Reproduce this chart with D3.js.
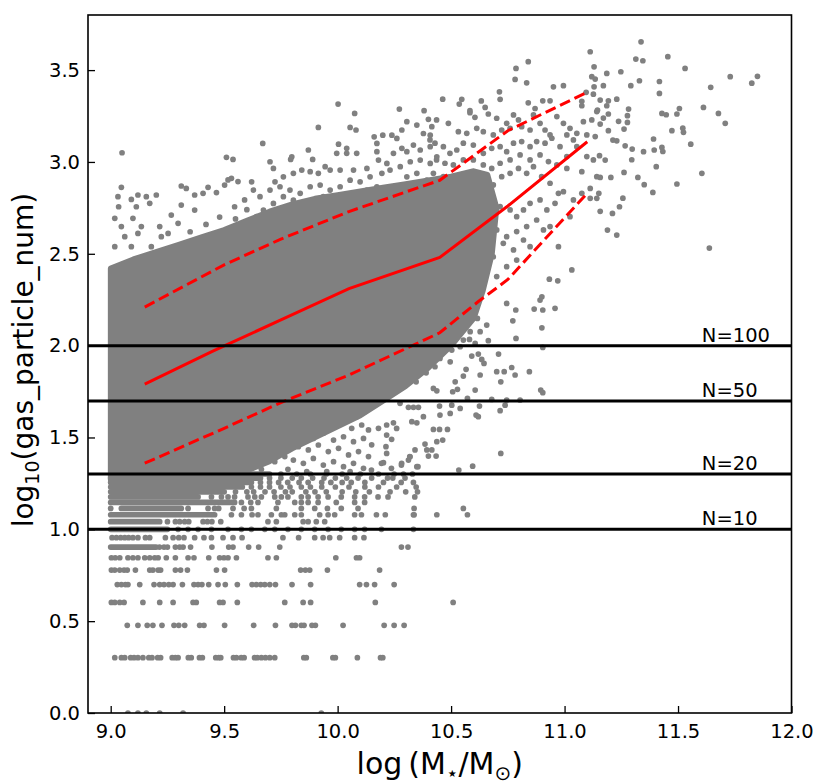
<!DOCTYPE html>
<html>
<head>
<meta charset="utf-8">
<script src="https://cdn.jsdelivr.net/npm/d3@7"></script>
<style>
  body { margin: 0; background: #fff; }
  text { font-family: "DejaVu Sans", sans-serif; }
</style>
</head>
<body>
<svg id="chart" width="831" height="784"></svg>
<script>
// ---- tick values
var xTicks = [9.0, 9.5, 10.0, 10.5, 11.0, 11.5, 12.0];
var yTicks = [0.0, 0.5, 1.0, 1.5, 2.0, 2.5, 3.0, 3.5];

// ---- running median and 16/84 percentiles
var medianLine = [[9.15, 1.79], [9.45, 1.97], [9.75, 2.14], [10.05, 2.31], [10.45, 2.48], [10.75, 2.76], [11.1, 3.11]];
var upperLine = [[9.15, 2.21], [9.5, 2.44], [9.75, 2.58], [10.05, 2.73], [10.45, 2.90], [10.75, 3.17], [11.1, 3.38]];
var lowerLine = [[9.15, 1.36], [9.5, 1.55], [9.75, 1.69], [10.05, 1.84], [10.45, 2.07], [10.62, 2.24], [10.75, 2.36], [11.1, 2.83]];

// ---- particle number thresholds
var thresholds = [100, 50, 20, 10];

// ---- outline of the region where the points merge into solid grey
var coreUpper = [[9.0, 2.42], [9.1, 2.47], [9.2, 2.51], [9.3, 2.55], [9.4, 2.59], [9.5, 2.63], [9.6, 2.68], [9.7, 2.73],
  [9.8, 2.77], [9.9, 2.80], [10.0, 2.82], [10.1, 2.84], [10.2, 2.86], [10.3, 2.88], [10.4, 2.90], [10.5, 2.92],
  [10.6, 2.95], [10.66, 2.93]];
var coreLower = [[10.7, 2.75], [10.68, 2.5], [10.64, 2.3], [10.6, 2.15], [10.5, 2.0], [10.4, 1.88], [10.3, 1.78], [10.2, 1.70],
  [10.1, 1.62], [10.0, 1.56], [9.9, 1.50], [9.8, 1.44], [9.7, 1.37], [9.6, 1.32], [9.5, 1.30], [9.0, 1.27]];

// ---- small particle counts fall on discrete rows y = log10(n)
var rowCounts = [1, 2, 3, 4, 5, 6, 7, 8, 9, 10, 11, 12, 13, 14, 15, 16, 17, 18, 19, 20];
var rowX = [
  [9.076, 9.120, 9.157, 9.216, 9.319, 9.928],
  [9.018, 9.047, 9.062, 9.088, 9.103, 9.120, 9.142, 9.168, 9.182, 9.207, 9.220, 9.271, 9.285, 9.297, 9.342, 9.355, 9.391, 9.404,
   9.463, 9.476, 9.485, 9.541, 9.554, 9.575, 9.588, 9.634, 9.646, 9.664, 9.682, 9.701, 9.723, 9.851, 9.862, 9.979, 9.990, 10.087, 10.189, 10.199],
  [9.073, 9.120, 9.161, 9.186, 9.226, 9.279, 9.300, 9.326, 9.392, 9.411, 9.502, 9.630, 9.726, 9.799, 9.814, 9.840, 9.852,
   9.887, 9.902, 10.024, 10.205, 10.249, 10.293],
  [9.003, 9.018, 9.040, 9.059, 9.142, 9.216, 9.275, 9.363, 9.377, 9.480, 9.495, 9.558, 9.767, 9.848, 9.881, 10.166, 10.509],
  [9.029, 9.047, 9.065, 9.076, 9.128, 9.191, 9.216, 9.235, 9.256, 9.275, 9.316, 9.367, 9.385, 9.402, 9.432, 9.473, 9.505,
   9.558, 9.623, 9.642, 9.661, 9.679, 9.701, 9.726, 9.799, 9.881, 10.097, 10.127, 10.163, 10.249],
  [9.003, 9.018, 9.040, 9.059, 9.073, 9.109, 9.172, 9.186, 9.209, 9.220, 9.285, 9.308, 9.338, 9.466, 9.502, 9.837, 9.858,
   9.877, 9.955, 10.185],
  [9.003, 9.020, 9.040, 9.076, 9.098, 9.120, 9.150, 9.172, 9.194, 9.209, 9.245, 9.285, 9.341, 9.367, 9.432, 9.480, 9.499,
   9.517, 9.554, 9.693, 9.730, 9.992, 10.083, 10.097],
  [9.215, 9.235, 9.250, 9.285, 9.304, 9.319, 9.352, 9.446, 9.520, 9.539, 9.608, 9.652, 9.745, 10.281, 10.310],
  [9.006, 9.025, 9.044, 9.062, 9.079, 9.098, 9.120, 9.153, 9.172, 9.241, 9.275, 9.300, 9.323, 9.370, 9.411, 9.444, 9.495,
   9.539, 9.579, 9.759, 9.828, 9.899, 9.936, 9.965, 10.009, 10.075, 10.116],
  [9.297, 9.341, 9.385, 9.444, 9.517, 9.576, 9.620, 9.679, 9.723, 9.781, 9.840, 9.899, 9.958, 10.016, 10.075, 10.119, 10.193, 10.334],
  [9.250, 9.285, 9.304, 9.326, 9.344, 9.407, 9.426, 9.446, 9.485, 9.693, 9.730, 9.848, 9.870, 9.906, 9.943],
  [9.532, 9.576, 9.623, 9.649, 9.708, 9.752, 9.767, 9.811, 9.840, 9.921, 9.958, 9.987, 10.075, 10.105, 10.171, 10.210,
   10.334, 10.337, 10.437, 10.572],
  [9.0, 9.341, 9.429, 9.458, 9.476, 9.539, 9.588, 9.620, 9.730, 9.840, 9.899, 9.955, 10.016, 10.090, 10.337, 10.554],
  [9.576, 9.617, 9.649, 9.737, 9.811, 9.840, 9.870, 9.914, 9.994, 10.075, 10.119],
  [9.444, 9.488, 9.517, 9.546, 9.605, 9.635, 9.664, 9.723, 9.752, 9.781, 9.840, 9.870, 9.914, 9.958, 10.016, 10.075, 10.119,
   10.178, 10.222, 10.340],
  [9.55, 9.60, 9.63, 9.68, 9.72, 9.77, 9.80, 9.86, 9.90, 9.95, 10.02, 10.08, 10.14, 10.231, 10.30, 10.352],
  [9.62, 9.66, 9.70, 9.75, 9.79, 9.84, 9.88, 9.93, 9.99, 10.05, 10.12, 10.18, 10.26, 10.346],
  [9.66, 9.70, 9.74, 9.78, 9.83, 9.87, 9.93, 9.97, 10.02, 10.06, 10.12, 10.202, 10.28, 10.334],
  [9.70, 9.75, 9.80, 9.84, 9.89, 9.94, 9.99, 10.04, 10.09, 10.15, 10.22, 10.243, 10.297],
  [9.75, 9.82, 9.88, 9.95, 10.02, 10.10, 10.18, 10.249, 10.290, 10.33]
];
// continuous stretches of a row: [n, x from, x to]
var rowRuns = [[8, 9.0, 9.20], [10, 9.0, 9.25], [11, 9.0, 9.216], [12, 9.0, 9.458], [13, 9.047, 9.311], [14, 9.0, 9.546],
  [15, 9.0, 9.385], [16, 9.0, 9.50], [17, 9.0, 9.58], [18, 9.0, 9.62], [19, 9.0, 9.66], [20, 9.0, 9.70]];

// ---- individual galaxies outside the solid region
var sparsePts = [
  // above the cloud, low mass
  [9.050, 3.050], [9.047, 2.862], [9.032, 2.811], [9.035, 2.756], [9.091, 2.796], [9.120, 2.820], [9.157, 2.811], [9.172, 2.775],
  [9.201, 2.820], [9.113, 2.756], [9.098, 2.693], [9.018, 2.693], [9.047, 2.648], [9.135, 2.648], [9.120, 2.611], [9.062, 2.593],
  [9.216, 2.648], [9.223, 2.593], [9.267, 2.711], [9.311, 2.765], [9.311, 2.869], [9.333, 2.856], [9.370, 2.820], [9.407, 2.829],
  [9.429, 2.862], [9.466, 2.833], [9.502, 2.874], [9.517, 2.902], [9.532, 2.911], [9.561, 2.893], [9.510, 3.025], [9.539, 3.014],
  [9.590, 2.793], [9.546, 2.756], [9.370, 2.738], [9.297, 2.666], [9.253, 2.611], [9.179, 2.539], [9.091, 2.539], [9.018, 2.539],
  [9.150, 2.480], [9.35, 2.62], [9.42, 2.66], [9.48, 2.70], [9.55, 2.69], [9.60, 2.74], [10.002, 3.315], [10.075, 3.264],
  // above the cloud, 9.6 - 10.4
  [9.915, 3.188], [10.055, 3.188], [10.081, 3.174], [9.670, 3.101], [10.004, 3.097], [9.871, 3.065], [9.798, 3.028], [9.793, 3.014],
  [9.702, 3.001], [9.717, 2.965], [9.890, 3.014], [9.945, 2.974], [9.996, 3.047], [10.040, 3.074], [10.040, 3.047], [10.084, 3.047],
  [10.161, 3.137], [10.199, 3.146], [10.173, 3.101], [10.173, 3.056], [10.239, 3.146], [10.261, 3.128], [10.283, 3.174], [10.305, 3.219],
  [10.349, 3.201], [10.378, 3.155], [10.408, 3.146], [10.415, 3.192], [10.283, 3.074], [10.305, 3.056], [10.334, 3.092], [10.364, 3.065],
  [10.408, 3.083], [10.246, 3.047], [10.217, 2.992], [10.180, 3.010], [10.129, 2.965], [10.070, 2.956], [10.011, 2.956], [9.967, 2.956],
  [9.915, 2.938], [9.879, 2.947], [9.842, 2.956], [9.805, 2.938], [9.761, 2.919], [9.724, 2.892], [9.702, 2.847], [9.658, 2.811],
  [9.621, 2.892], [9.629, 2.847], [9.746, 2.865], [9.790, 2.847], [9.835, 2.829], [9.879, 2.865], [9.923, 2.874], [9.967, 2.847],
  [10.011, 2.865], [10.055, 2.901], [10.099, 2.892], [10.143, 2.919], [10.195, 2.938], [10.231, 2.956], [10.276, 2.974], [10.320, 3.001],
  [10.364, 3.010], [10.408, 2.992], [10.437, 3.028], [10.305, 2.919], [10.349, 2.938], [10.393, 2.901], [10.173, 2.865], [10.129, 2.847],
  [10.084, 2.829], [10.026, 2.801], [9.982, 2.783], [9.937, 2.811], [9.893, 2.792], [9.849, 2.765], [9.805, 2.792], [9.761, 2.811],
  [9.717, 2.774], [9.673, 2.738], [9.643, 2.702],
  // top of the cloud, 10.3 - 10.9
  [10.840, 3.546], [10.786, 3.509], [10.782, 3.449], [10.833, 3.431], [10.713, 3.382], [10.716, 3.341], [10.633, 3.332], [10.547, 3.341],
  [10.536, 3.315], [10.463, 3.342], [10.381, 3.279], [10.272, 3.288], [10.400, 3.232], [10.583, 3.279], [10.650, 3.297], [10.840, 3.322],
  [10.870, 3.291],
  // between the percentiles, 10.4 - 11.15
  [10.583, 3.268], [10.605, 3.243], [10.664, 3.261], [10.701, 3.238], [10.745, 3.210], [10.775, 3.256], [10.797, 3.229], [10.811, 3.192],
  [10.863, 3.256], [10.892, 3.210], [10.966, 3.247], [10.995, 3.210], [11.024, 3.183], [11.054, 3.156], [11.083, 3.219], [11.120, 3.229],
  [11.142, 3.274], [10.436, 3.229], [10.488, 3.210], [10.532, 3.165], [10.569, 3.156], [10.613, 3.183], [10.642, 3.165], [10.686, 3.147],
  [10.723, 3.174], [10.760, 3.183], [10.848, 3.174], [10.914, 3.174], [10.936, 3.147], [11.010, 3.147], [11.039, 3.120], [11.098, 3.147],
  [11.135, 3.138], [10.407, 3.120], [10.429, 3.102], [10.466, 3.083], [10.495, 3.047], [10.525, 3.065], [10.554, 3.102], [10.598, 3.092],
  [10.642, 3.047], [10.679, 3.074], [10.716, 3.083], [10.745, 3.056], [10.775, 3.102], [10.811, 3.111], [10.848, 3.083], [10.877, 3.111],
  [10.914, 3.102], [10.944, 3.129], [10.980, 3.083], [11.010, 3.029], [11.054, 3.083], [11.098, 3.029], [11.127, 3.011], [11.142, 2.920],
  [11.076, 2.947], [11.010, 2.965], [10.966, 2.984], [10.929, 3.002], [10.892, 3.038], [10.848, 3.011], [10.804, 3.038], [10.760, 3.011],
  [10.716, 2.993], [10.679, 2.965], [10.642, 2.984], [10.598, 3.011], [10.554, 3.011], [10.510, 2.984], [10.473, 2.993], [10.436, 3.011],
  [10.422, 2.938], [10.466, 2.920], [10.503, 2.893], [10.539, 2.929], [10.576, 2.911], [10.613, 2.938], [10.650, 2.902], [10.686, 2.875],
  [10.723, 2.920], [10.760, 2.938], [10.797, 2.965], [10.833, 2.938], [10.863, 2.974], [10.899, 2.920], [10.936, 2.884], [10.973, 2.829],
  [10.995, 2.838], [11.039, 2.793], [11.076, 2.829], [11.113, 2.856], [11.142, 2.802], [10.436, 2.829], [10.481, 2.811], [10.525, 2.838],
  [10.561, 2.793], [10.598, 2.820], [10.642, 2.775], [10.679, 2.802], [10.716, 2.757], [10.760, 2.739], [10.789, 2.702], [10.819, 2.739],
  [10.848, 2.775], [10.892, 2.793], [10.922, 2.739], [10.958, 2.775], [10.877, 2.684], [10.833, 2.648], [10.789, 2.621], [10.745, 2.593],
  [10.701, 2.630], [10.657, 2.684], [10.613, 2.666], [10.569, 2.720], [10.525, 2.739], [10.481, 2.684], [10.444, 2.720], [10.422, 2.630],
  [10.466, 2.593], [10.510, 2.575], [10.554, 2.593], [10.598, 2.521], [10.642, 2.539], [10.686, 2.484], [10.730, 2.557], [10.775, 2.521],
  [10.819, 2.575], [10.848, 2.539], [10.907, 2.630], [10.936, 2.648], [10.973, 2.539], [11.024, 2.702], [11.113, 2.802], [11.032, 2.412],
  [10.657, 2.412], [10.701, 2.376], [10.539, 2.466], [10.495, 2.430], [10.451, 2.503], [10.583, 2.412], [10.627, 2.457], [10.789, 2.466],
  [10.745, 2.430],
  // high-mass end
  [11.337, 3.654], [11.455, 3.573], [11.314, 3.560], [11.345, 3.551], [11.113, 3.600], [11.130, 3.518], [11.120, 3.464], [11.135, 3.451],
  [11.186, 3.482], [11.248, 3.491], [11.531, 3.509], [11.730, 3.464], [11.850, 3.466], [11.825, 3.429], [11.644, 3.406], [11.418, 3.438],
  [11.418, 3.373], [11.330, 3.442], [11.292, 3.415], [11.171, 3.415], [11.130, 3.409], [11.230, 3.342], [11.193, 3.333], [11.157, 3.337],
  [11.127, 3.369], [11.282, 3.288], [11.186, 3.306], [11.145, 3.282], [11.171, 3.239], [11.193, 3.261], [11.277, 3.252], [11.277, 3.215],
  [11.238, 3.221], [11.429, 3.264], [11.448, 3.257], [11.506, 3.291], [11.495, 3.261], [11.612, 3.297], [11.678, 3.264], [11.708, 3.210],
  [11.473, 3.170], [11.521, 3.184], [11.524, 3.161], [11.556, 3.097], [11.392, 3.125], [11.429, 3.079], [11.433, 3.057], [11.395, 3.065],
  [11.348, 3.056], [11.298, 3.070], [11.267, 3.088], [11.262, 3.179], [11.230, 3.115], [11.213, 3.119], [11.193, 3.170], [11.157, 3.206],
  [11.296, 3.012], [11.404, 2.974], [11.605, 2.938], [11.495, 2.880], [11.389, 2.834], [11.351, 2.876], [11.323, 2.916], [11.262, 2.943],
  [11.204, 2.916], [11.157, 2.916], [11.179, 3.010], [11.154, 3.034], [11.151, 2.829], [11.157, 2.731], [11.211, 2.720], [11.257, 2.803],
  [11.242, 2.756], [11.189, 2.629], [11.230, 2.602], [11.638, 2.531], [10.970, 2.353], [10.933, 2.362], [10.900, 2.266], [10.892, 2.248],
  [10.904, 2.194], [10.866, 2.199], [10.958, 2.203], [10.785, 2.194], [10.745, 2.230], [11.076, 3.306], [11.095, 3.379], [11.076, 3.330],
  [10.951, 3.409], [10.995, 3.415], [10.904, 3.333], [10.936, 3.333],
  // below the cloud, 10.2 - 10.9
  [10.772, 2.135], [10.900, 2.097], [10.786, 2.039], [10.904, 1.990], [10.664, 2.027], [10.628, 2.076], [10.657, 2.112], [10.616, 2.148],
  [10.584, 2.076], [10.581, 2.034], [10.554, 2.030], [10.606, 2.012], [10.518, 2.067], [10.540, 1.994], [10.503, 1.976], [10.466, 2.012],
  [10.709, 1.954], [10.591, 1.943], [10.620, 1.954], [10.635, 1.925], [10.645, 1.903], [10.628, 1.840], [10.566, 1.871], [10.554, 1.834],
  [10.518, 1.803], [10.496, 1.912], [10.451, 1.930], [10.407, 1.958], [10.429, 1.885], [10.390, 1.852], [10.407, 1.903], [10.363, 1.885],
  [10.334, 1.840], [10.297, 1.834], [10.260, 1.803], [10.346, 1.803], [10.422, 1.767], [10.437, 1.754], [10.507, 1.749], [10.528, 1.762],
  [10.572, 1.713], [10.606, 1.758], [10.701, 1.858], [10.734, 1.858], [10.767, 1.881], [10.782, 1.840], [10.845, 1.858], [10.719, 1.803],
  [10.895, 1.758], [10.904, 1.744], [10.679, 1.707], [10.745, 1.704], [10.804, 1.704], [10.738, 1.676], [10.716, 1.646], [10.625, 1.671],
  [10.610, 1.622], [10.620, 1.613], [10.540, 1.658], [10.503, 1.676], [10.449, 1.671], [10.451, 1.622], [10.496, 1.631], [10.378, 1.613],
  [10.356, 1.664], [10.334, 1.664], [10.312, 1.664], [10.275, 1.686], [10.327, 1.586], [10.349, 1.580], [10.422, 1.544], [10.449, 1.544],
  [10.484, 1.544], [10.463, 1.486], [10.437, 1.477], [10.385, 1.464], [10.393, 1.432], [10.415, 1.432], [10.400, 1.399], [10.434, 1.399],
  [10.341, 1.432], [10.319, 1.395], [10.312, 1.377], [10.349, 1.341], [10.282, 1.359], [10.719, 1.413], [10.595, 1.344], [10.534, 1.323],
  [10.216, 1.568], [10.246, 1.580], [10.260, 1.549], [10.216, 1.513], [10.238, 1.490], [10.213, 1.450], [10.216, 1.413], [10.202, 1.363],
  // below the cloud, 9.8 - 10.15
  [9.820, 1.650], [9.864, 1.668], [9.908, 1.641], [9.952, 1.659], [9.996, 1.632], [10.040, 1.650], [10.084, 1.613], [10.121, 1.641],
  [9.842, 1.595], [9.886, 1.577], [9.930, 1.604], [9.974, 1.559], [10.018, 1.586], [10.062, 1.550], [10.106, 1.568], [9.805, 1.541],
  [9.849, 1.514], [9.893, 1.495], [9.937, 1.523], [9.982, 1.486], [10.026, 1.504], [10.070, 1.477], [10.114, 1.495], [9.827, 1.450],
  [9.871, 1.432], [9.915, 1.459], [9.959, 1.423], [10.004, 1.441], [10.048, 1.405], [10.092, 1.423], [10.136, 1.396], [9.805, 1.377],
  [9.849, 1.359], [9.893, 1.386], [9.937, 1.350], [9.982, 1.368], [10.026, 1.341], [10.070, 1.359], [10.114, 1.332], [9.864, 1.314],
  [9.952, 1.314], [10.055, 1.314], [10.136, 1.541], [9.790, 1.613],
  [9.590, 1.414], [9.635, 1.377], [9.693, 1.414], [9.723, 1.368], [9.767, 1.396], [10.193, 1.359], [10.281, 1.350], [10.318, 1.396],
  [10.354, 1.341], [9.605, 1.332], [9.664, 1.327], [9.781, 1.327], [10.149, 1.323], [10.237, 1.332], [10.15, 1.46], [10.18, 1.55]
];

// ---- layout
var plotL = 88, plotR = 791.5, plotT = 15, plotB = 713;
var grey = "#808080", dotR = 2.85;

var svg = d3.select("#chart");
var x = d3.scaleLinear().domain([8.9, 12.0]).range([plotL, plotR]);
var y = d3.scaleLinear().domain([0, 3.8]).range([plotB, plotT]);

svg.append("defs").append("clipPath").attr("id", "plotclip")
  .append("rect").attr("x", plotL).attr("y", plotT).attr("width", plotR - plotL).attr("height", plotB - plotT);

var plot = svg.append("g").attr("clip-path", "url(#plotclip)");
var line = d3.line().x(function(d) { return x(d[0]); }).y(function(d) { return y(d[1]); });

// solid core of the cloud
plot.append("path")
  .attr("d", line(coreUpper.concat(coreLower)) + "Z")
  .attr("fill", grey)
  .attr("stroke", grey)
  .attr("stroke-width", dotR * 2)
  .attr("stroke-linejoin", "round");

// merged stretches of the discrete rows
plot.selectAll(".run")
  .data(rowRuns)
  .enter().append("line")
  .attr("x1", function(d) { return x(d[1]); })
  .attr("x2", function(d) { return x(d[2]); })
  .attr("y1", function(d) { return y(Math.log10(d[0])); })
  .attr("y2", function(d) { return y(Math.log10(d[0])); })
  .attr("stroke", grey)
  .attr("stroke-width", dotR * 2)
  .attr("stroke-linecap", "round");

// single points on the discrete rows
var rowPts = [];
rowCounts.forEach(function(n, i) {
  rowX[i].forEach(function(v) { rowPts.push([v, Math.log10(n)]); });
});

plot.selectAll(".dot")
  .data(rowPts.concat(sparsePts))
  .enter().append("circle")
  .attr("cx", function(d) { return x(d[0]); })
  .attr("cy", function(d) { return y(d[1]); })
  .attr("r", dotR)
  .attr("fill", grey);

// median and percentile lines
plot.append("path").attr("d", line(medianLine))
  .attr("fill", "none").attr("stroke", "#ff0000").attr("stroke-width", 3);
[upperLine, lowerLine].forEach(function(l) {
  plot.append("path").attr("d", line(l))
    .attr("fill", "none").attr("stroke", "#ff0000").attr("stroke-width", 3)
    .attr("stroke-dasharray", "11,5");
});

// threshold lines
plot.selectAll(".thr")
  .data(thresholds)
  .enter().append("line")
  .attr("x1", plotL).attr("x2", plotR)
  .attr("y1", function(d) { return y(Math.log10(d)); })
  .attr("y2", function(d) { return y(Math.log10(d)); })
  .attr("stroke", "#000").attr("stroke-width", 3);

svg.selectAll(".thrlabel")
  .data(thresholds)
  .enter().append("text")
  .attr("x", x(11.605))
  .attr("y", function(d) { return y(Math.log10(d)) - 4; })
  .attr("font-size", 19.5)
  .text(function(d) { return "N=" + d; });

// axes with inward ticks
var fmt = d3.format(".1f");
var xAxis = svg.append("g").attr("transform", "translate(0," + plotB + ")")
  .call(d3.axisBottom(x).tickValues(xTicks).tickFormat(fmt).tickSizeInner(-7).tickSizeOuter(0).tickPadding(11));
var yAxis = svg.append("g").attr("transform", "translate(" + plotL + ",0)")
  .call(d3.axisLeft(y).tickValues(yTicks).tickFormat(fmt).tickSizeInner(-7).tickSizeOuter(0).tickPadding(8));
[xAxis, yAxis].forEach(function(a) {
  a.select(".domain").remove();
  a.selectAll("line").attr("stroke", "#000").attr("stroke-width", 1.3);
  a.selectAll("text").attr("font-size", 19.5).attr("fill", "#000")
    .attr("font-family", "DejaVu Sans, sans-serif");
});

// frame
svg.append("rect")
  .attr("x", plotL).attr("y", plotT).attr("width", plotR - plotL).attr("height", plotB - plotT)
  .attr("fill", "none").attr("stroke", "#000").attr("stroke-width", 1.6);

// axis labels
var xl = svg.append("text").attr("x", (plotL + plotR) / 2).attr("y", 774)
  .attr("text-anchor", "middle").attr("font-size", 30);
xl.append("tspan").text("log\u2009(M");
xl.append("tspan").attr("font-size", 20).attr("dy", 6).text("\u22c6");
xl.append("tspan").attr("dy", -6).text("/M");
xl.append("tspan").attr("font-size", 20).attr("dy", 6).text("\u2299");
xl.append("tspan").attr("dy", -6).text(")");

var yl = svg.append("text")
  .attr("transform", "translate(33," + ((plotT + plotB) / 2 - 4) + ") rotate(-90)")
  .attr("text-anchor", "middle").attr("font-size", 28);
yl.append("tspan").text("log");
yl.append("tspan").attr("font-size", 19).attr("dy", 6).text("10");
yl.append("tspan").attr("dy", -6).text("(gas_particle_num)");
</script>
</body>
</html>
